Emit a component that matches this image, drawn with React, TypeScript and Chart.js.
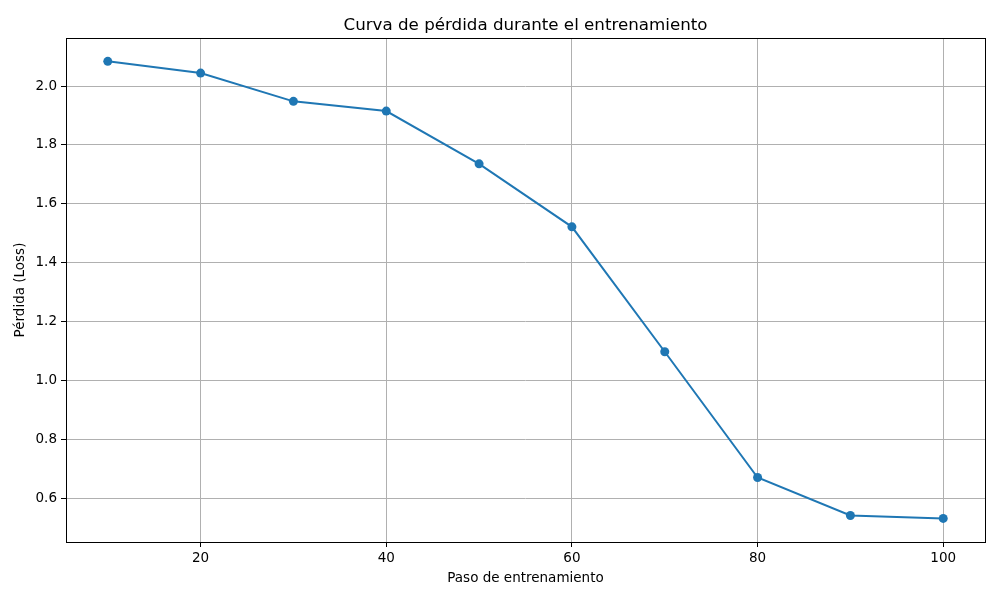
import React, { useEffect, useRef } from 'react';
import { Chart, registerables } from 'chart.js';

Chart.register(...registerables);

const steps = [10, 20, 30, 40, 50, 60, 70, 80, 90, 100];
const losses = [2.084, 2.044, 1.948, 1.915, 1.736, 1.522, 1.098, 0.671, 0.542, 0.532];
const xTicks = [20, 40, 60, 80, 100];
const yTicks = [0.6, 0.8, 1.0, 1.2, 1.4, 1.6, 1.8, 2.0];

const FONT = "'DejaVu Sans', sans-serif";

// black frame round the plot area, like matplotlib spines
const frame = {
    id: 'frame',
    afterDraw(chart) {
        const { ctx, chartArea } = chart;
        ctx.save();
        ctx.strokeStyle = '#000';
        ctx.lineWidth = 1;
        ctx.strokeRect(
            Math.round(chartArea.left) + 0.5,
            Math.round(chartArea.top) + 0.5,
            Math.round(chartArea.right - chartArea.left),
            Math.round(chartArea.bottom - chartArea.top)
        );
        ctx.restore();
    }
};

export default function App() {
    const canvas = useRef(null);

    useEffect(() => {
        const chart = new Chart(canvas.current, {
            type: 'line',
            data: {
                datasets: [{
                    label: 'Pérdida',
                    data: steps.map((s, i) => ({ x: s, y: losses[i] })),
                    borderColor: '#1f77b4',
                    backgroundColor: '#1f77b4',
                    borderWidth: 2,
                    pointRadius: 4.5,
                    pointBorderWidth: 0,
                    tension: 0
                }]
            },
            options: {
                animation: false,
                responsive: false,
                maintainAspectRatio: false,
                layout: { padding: { left: 0, right: 15, top: 0, bottom: 0 } },
                plugins: {
                    legend: { display: false },
                    tooltip: { enabled: false },
                    title: {
                        display: true,
                        fullSize: false,
                        text: 'Curva de pérdida durante el entrenamiento',
                        color: '#000',
                        font: { family: FONT, size: 16.7, weight: 'normal', lineHeight: 1.2 },
                        padding: { top: 16, bottom: 2 }
                    }
                },
                scales: {
                    x: {
                        type: 'linear',
                        min: 5.5,
                        max: 104.5,
                        afterFit(scale) { scale.height = 58; },
                        afterBuildTicks(scale) { scale.ticks = xTicks.map(v => ({ value: v })); },
                        grid: { color: '#b0b0b0', lineWidth: 1, tickColor: '#000', tickLength: 5 },
                        border: { display: false },
                        ticks: {
                            color: '#000',
                            padding: 3,
                            maxRotation: 0,
                            font: { family: FONT, size: 13.5 },
                            callback: v => String(v)
                        },
                        title: {
                            display: true,
                            text: 'Paso de entrenamiento',
                            color: '#000',
                            font: { family: FONT, size: 13.5, lineHeight: 1.2 },
                            padding: { top: 0, bottom: 13 }
                        }
                    },
                    y: {
                        type: 'linear',
                        min: 0.452,
                        max: 2.163,
                        afterFit(scale) { scale.width = 66; },
                        afterBuildTicks(scale) { scale.ticks = yTicks.map(v => ({ value: v })); },
                        grid: { color: '#b0b0b0', lineWidth: 1, tickColor: '#000', tickLength: 5 },
                        border: { display: false },
                        ticks: {
                            color: '#000',
                            padding: 4,
                            font: { family: FONT, size: 13.5 },
                            callback: v => Number(v).toFixed(1)
                        },
                        title: {
                            display: true,
                            text: 'Pérdida (Loss)',
                            color: '#000',
                            font: { family: FONT, size: 13.5, lineHeight: 1.2 },
                            padding: { top: 12, bottom: 0 }
                        }
                    }
                }
            },
            plugins: [frame]
        });
        return () => {
            chart.destroy();
        };
    }, []);

    return (
        <div style={{ position: 'fixed', left: 0, top: 0, width: 1000, height: 600, background: '#fff' }}>
            <canvas ref={canvas} width={1000} height={600} style={{ width: 1000, height: 600 }}></canvas>
        </div>
    );
}
